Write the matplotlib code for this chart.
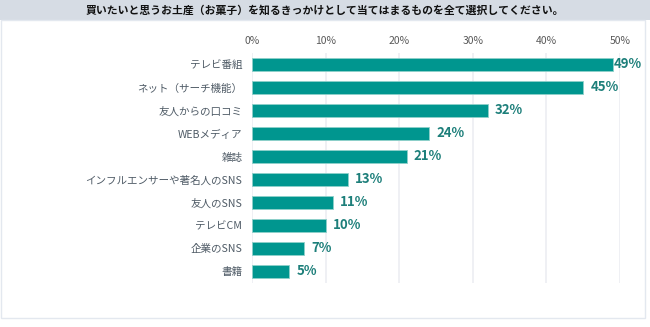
import matplotlib
matplotlib.use("Agg")
import matplotlib.pyplot as plt
from matplotlib.patches import Rectangle

plt.rcParams['font.family'] = ['Noto Sans CJK JP', 'DejaVu Sans']

title = "買いたいと思うお土産（お菓子）を知るきっかけとして当てはまるものを全て選択してください。"
categories = ["テレビ番組", "ネット（サーチ機能）", "友人からの口コミ", "WEBメディア", "雑誌",
              "インフルエンサーや著名人のSNS", "友人のSNS", "テレビCM", "企業のSNS", "書籍"]
values = [49, 45, 32, 24, 21, 13, 11, 10, 7, 5]
ticks = [0, 10, 20, 30, 40, 50]

bar_color = "#00968f"
label_color = "#1d7f7a"
text_color = "#595959"

fig = plt.figure(figsize=(6.5, 3.27), dpi=100)

# title band and outer frame
fig.patches.append(Rectangle((0, 1 - 20 / 327), 1, 20 / 327, transform=fig.transFigure,
                             facecolor="#d6dce4", edgecolor="none", zorder=0))
fig.patches.append(Rectangle((1 / 650, 1 - 318 / 327), 644 / 650, 298 / 327, transform=fig.transFigure,
                             facecolor="none", edgecolor="#e3e8ef", lw=1, zorder=0))
fig.text(0.5, 1 - 10 / 327, title, ha="center", va="center", fontsize=7.8, fontweight="bold", color="#111111")

ax = fig.add_axes([252 / 650, 1 - 283 / 327, 368 / 650, 230 / 327])
y = list(range(len(categories)))
ax.barh(y, values, height=0.57, color=bar_color, edgecolor="#8fd0ca", linewidth=0.6, zorder=3)
for yi, v in zip(y, values):
    # labels sit ~1% right of the bar, pulled in near the right edge
    ax.text(min(v + 1.0, 49.2), yi, f"{v}%", va="center", ha="left", fontsize=9.5, fontweight="bold",
            color=label_color, zorder=4)

ax.set_xlim(0, 50)
ax.set_ylim(len(categories) - 0.5, -0.5)
ax.set_xticks(ticks)
ax.set_xticklabels([f"{t}%" for t in ticks], fontsize=7.5, color=text_color)
ax.xaxis.tick_top()
ax.tick_params(axis="x", length=0, pad=5)
ax.set_yticks(y)
ax.set_yticklabels(categories, fontsize=7.6, color="#4f5b66")
ax.tick_params(axis="y", length=0, pad=7)
ax.grid(axis="x", color="#eceef2", lw=1.2, zorder=0)
for s in ax.spines.values():
    s.set_visible(False)

fig.savefig("out.png", dpi=100)
